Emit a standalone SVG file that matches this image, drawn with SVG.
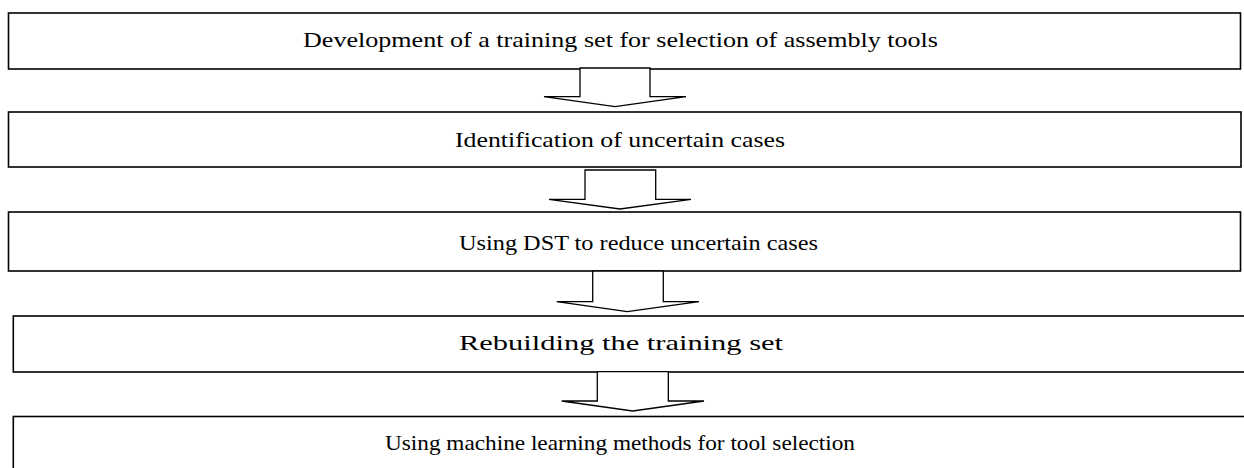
<svg xmlns="http://www.w3.org/2000/svg" width="1244" height="468" viewBox="0 0 1244 468">
<style>
.box{fill:#fff;stroke:#000;stroke-width:1.6}
.arr{fill:#fff;stroke:#000;stroke-width:1.3;stroke-linejoin:miter}
text{font-family:'Liberation Serif',serif;font-size:21px;fill:#000}
</style>
<rect width="1244" height="468" fill="#fff"/>
<g id="n1"><rect class="box" x="8.5" y="13" width="1232" height="56"/><text x="303" y="46.5" textLength="635" lengthAdjust="spacingAndGlyphs">Development of a training set for selection of assembly tools</text></g>
<g id="n2"><rect class="box" x="8.5" y="112" width="1232.5" height="55"/><text x="455" y="146.5" textLength="330" lengthAdjust="spacingAndGlyphs">Identification of uncertain cases</text></g>
<g id="n3"><rect class="box" x="8.5" y="212" width="1232" height="59"/><text x="459" y="250" textLength="359" lengthAdjust="spacingAndGlyphs">Using DST to reduce uncertain cases</text></g>
<g id="n4"><rect class="box" x="13.3" y="316" width="1240" height="56"/><text x="459" y="350" textLength="324" lengthAdjust="spacingAndGlyphs">Rebuilding the training set</text></g>
<g id="n5"><rect class="box" x="13.3" y="416.5" width="1240" height="60"/><text x="385" y="450" textLength="470" lengthAdjust="spacingAndGlyphs">Using machine learning methods for tool selection</text></g>
<g id="connectors">
<polygon class="arr" points="580,68 580,96.7 544,96.7 615,106.7 686,96.7 650,96.7 650,68"/>
<polygon class="arr" points="585,170 585,199.3 549,199.3 620,209 691,199.3 655.7,199.3 655.7,170"/>
<polygon class="arr" points="592.7,271 592.7,301.7 556.7,301.7 627.3,311.7 699,301.7 663.3,301.7 663.3,271"/>
<polygon class="arr" points="597.3,371.7 597.3,401 561.7,401 632.7,411 704,401 668.3,401 668.3,371.7"/>
</g>
</svg>
